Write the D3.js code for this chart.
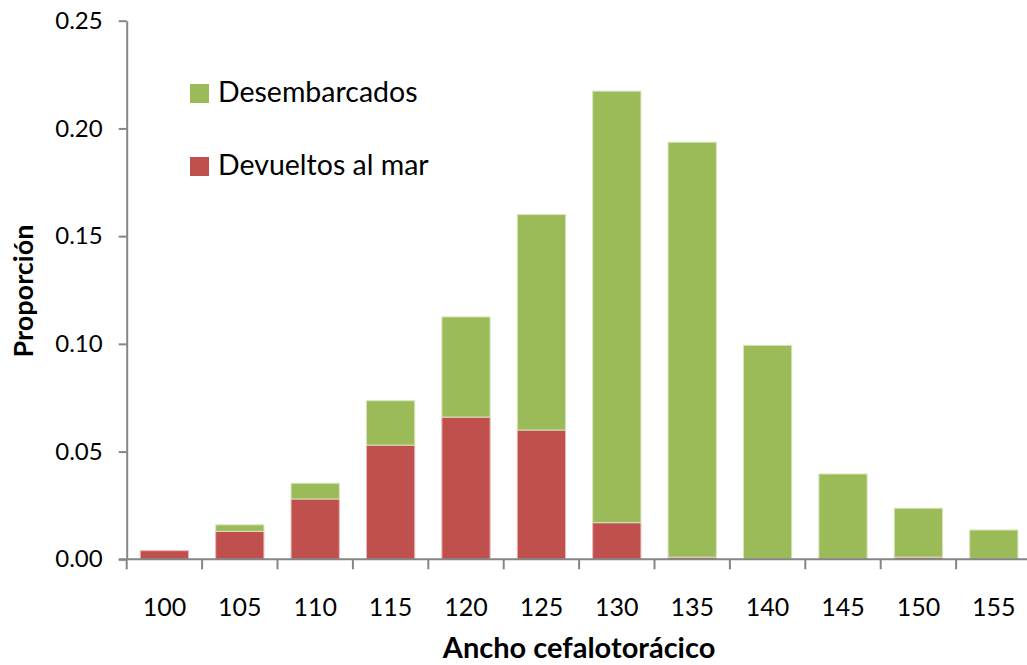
<!DOCTYPE html>
<html lang="es">
<head>
    <meta charset="UTF-8">
    <title>Proporción por ancho cefalotorácico</title>
    <script src="https://d3js.org/d3.v7.min.js"></script>
    <style>
        body {
            margin: 0;
            background-color: #ffffff;
            font-family: Lato, "Open Sans", sans-serif;
        }
        svg text {
            fill: #000;
        }
        .axis path, .axis line {
            stroke: #868686;
            stroke-width: 2;
        }
    </style>
</head>
<body>
    <div id="chart"></div>

    <script>
        // Data
        const categories = [100, 105, 110, 115, 120, 125, 130, 135, 140, 145, 150, 155];
        const devueltos = [0.004, 0.013, 0.028, 0.053, 0.066, 0.060, 0.017, 0.001, 0, 0, 0.001, 0];
        const desembarcados = [0, 0.003, 0.0073, 0.0206, 0.0465, 0.100, 0.2003, 0.1926, 0.0993, 0.0396, 0.0227, 0.0136];
        const yTicks = [0, 0.05, 0.10, 0.15, 0.20, 0.25];
        const seriesNames = ["Desembarcados", "Devueltos al mar"];

        const width = 1027;
        const height = 665;
        const plot = { left: 126.7, right: 1031.5, top: 20.7, bottom: 559.3 };

        const colors = { devueltos: "#C0504D", desembarcados: "#9BBB59" };

        const svg = d3.select('#chart')
            .append('svg')
            .attr('width', width)
            .attr('height', height);

        // Table for the stack layout
        const rows = categories.map((c, i) => ({
            cat: c,
            devueltos: devueltos[i],
            desembarcados: desembarcados[i]
        }));
        const stacked = d3.stack().keys(["devueltos", "desembarcados"])(rows);

        const x = d3.scaleBand()
            .domain(categories)
            .range([plot.left, plot.right])
            .paddingInner(0.36)
            .paddingOuter(0.18);

        // same bands with no padding, for the tick marks between categories
        const xCells = d3.scaleBand()
            .domain(categories)
            .range([plot.left, plot.right]);

        const y = d3.scaleLinear()
            .domain([0, 0.25])
            .range([plot.bottom, plot.top]);

        // Bars
        svg.append('g')
            .selectAll('g')
            .data(stacked)
            .join('g')
            .attr('fill', d => colors[d.key])
            .attr('stroke', d => d.key === "devueltos" ? "#e9b9b8" : "#d7e4bd")
            .attr('stroke-width', 1)
            .selectAll('rect')
            .data(d => d.filter(s => s[1] - s[0] > 0))
            .join('rect')
            .attr('x', d => x(d.data.cat))
            .attr('width', x.bandwidth())
            .attr('y', d => y(d[1]))
            .attr('height', d => y(d[0]) - y(d[1]));

        // Y axis
        const yAxis = svg.append('g')
            .attr('class', 'axis')
            .attr('transform', `translate(${plot.left},0)`)
            .call(d3.axisLeft(y)
                .tickValues(yTicks)
                .tickFormat(d3.format('.2f'))
                .tickSize(8)
                .tickSizeOuter(0)
                .tickPadding(16));
        yAxis.selectAll('text')
            .attr('font-size', 24)
            .attr('font-family', 'Lato, sans-serif');

        // X axis: line, boundary ticks, labels
        const xAxis = svg.append('g')
            .attr('class', 'axis')
            .attr('transform', `translate(0,${plot.bottom})`);
        xAxis.append('line')
            .attr('x1', plot.left - 8)
            .attr('x2', plot.right)
            .attr('y1', 0)
            .attr('y2', 0);
        xAxis.selectAll('line.tick')
            .data(categories)
            .join('line')
            .attr('class', 'tick')
            .attr('x1', d => xCells(d))
            .attr('x2', d => xCells(d))
            .attr('y1', 0)
            .attr('y2', 10);
        xAxis.selectAll('text')
            .data(categories)
            .join('text')
            .attr('x', d => xCells(d) + xCells.bandwidth() / 2)
            .attr('y', 57)
            .attr('text-anchor', 'middle')
            .attr('font-size', 25)
            .text(d => d);

        // Axis titles
        svg.append('text')
            .attr('transform', 'translate(33,291) rotate(-90)')
            .attr('text-anchor', 'middle')
            .attr('font-size', 27)
            .attr('font-weight', 'bold')
            .text('Proporción');

        svg.append('text')
            .attr('x', (plot.left + plot.right) / 2)
            .attr('y', 658)
            .attr('text-anchor', 'middle')
            .attr('font-size', 29)
            .attr('font-weight', 'bold')
            .text('Ancho cefalotorácico');

        // Legend
        const legend = svg.append('g')
            .selectAll('g')
            .data(seriesNames)
            .join('g')
            .attr('transform', (d, i) => `translate(190,${84 + i * 73})`);
        legend.append('rect')
            .attr('width', 19)
            .attr('height', 19)
            .attr('fill', (d, i) => i === 0 ? colors.desembarcados : colors.devueltos);
        legend.append('text')
            .attr('x', 28)
            .attr('y', 18)
            .attr('font-size', 28.5)
            .text(d => d);
    </script>
</body>
</html>
